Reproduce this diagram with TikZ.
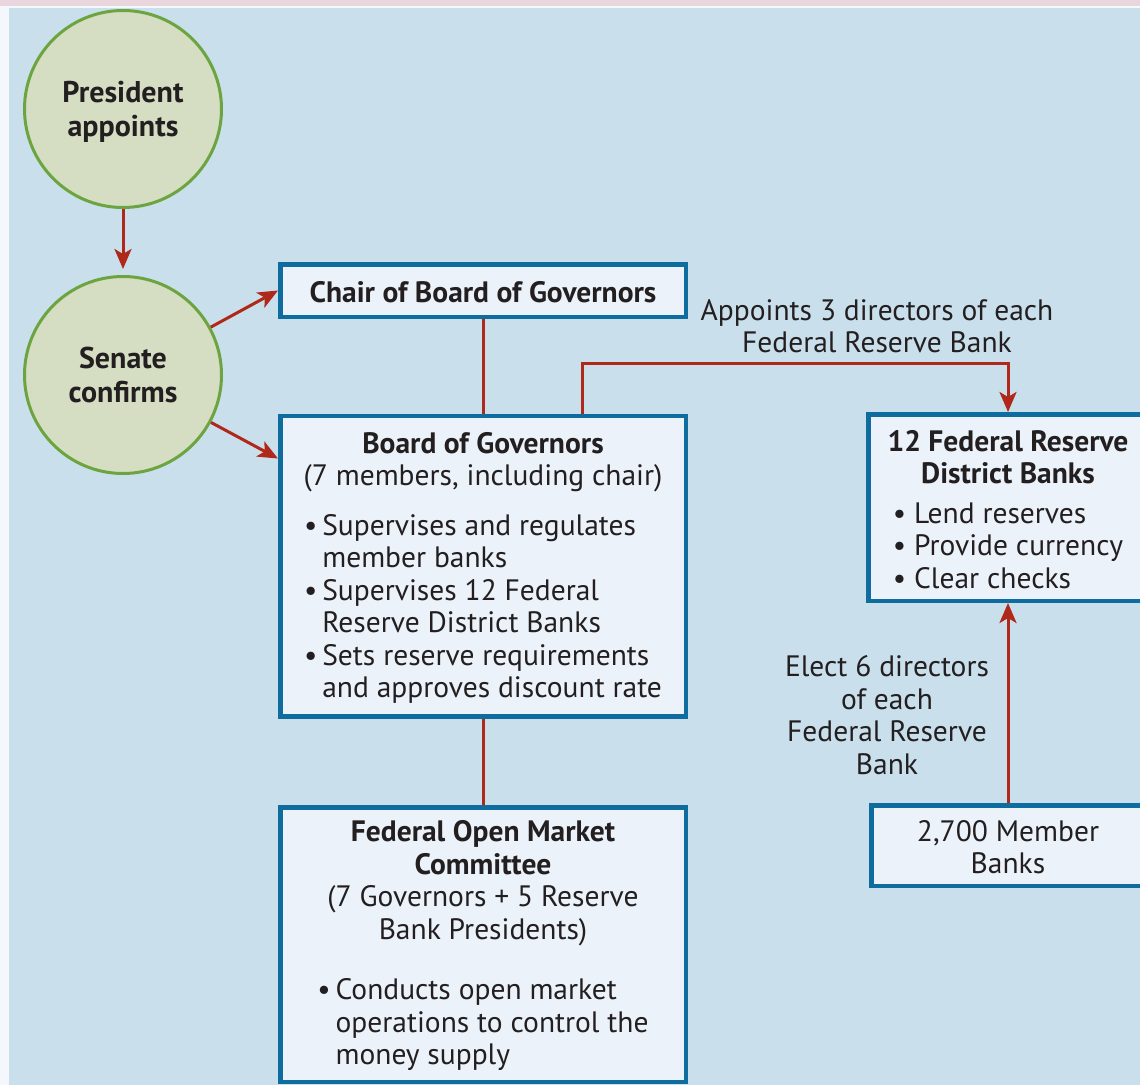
\documentclass[tikz,border=0pt]{standalone}
\usepackage{fontspec}
\setmainfont{PT Sans}
\usetikzlibrary{arrows.meta}
\definecolor{bgblue}{HTML}{C9DFEB}
\definecolor{edgewhite}{HTML}{F4F7FB}
\definecolor{toppink}{HTML}{E9D6DC}
\definecolor{boxfill}{HTML}{EBF2F9}
\definecolor{boxline}{HTML}{0E6C9E}
\definecolor{circfill}{HTML}{D5DDC3}
\definecolor{circline}{HTML}{6CA43F}
\definecolor{linkred}{HTML}{B0281A}
\definecolor{ink}{HTML}{231F20}
\newcommand\liftline[1]{\rule{0pt}{\dimexpr\ht\strutbox+#1\relax}}
\tikzset{
  basefont/.style={font=\fontsize{29.5}{32.5}\selectfont, text=ink},
  circ/.style={circle, basefont, draw=circline, fill=circfill, line width=3pt, minimum size=197pt, inner sep=0pt, align=center, font=\fontsize{30}{34}\selectfont\bfseries},
  fedbox/.style={rectangle, basefont, draw=boxline, fill=boxfill, line width=4.5pt, inner sep=0pt, align=center},
  lbl/.style={basefont, align=center, inner sep=0pt},
  link/.style={draw=linkred, line width=3pt},
  arr/.style={link, -{Stealth[length=20pt,width=17pt,inset=5pt]}}
}
\begin{document}
\begin{tikzpicture}[x=1pt,y=-1pt]
\useasboundingbox (0,0) rectangle (1140,1085);
\clip (0,0) rectangle (1140,1085);
\fill[edgewhite] (0,0) rectangle (1140,1085);
\fill[toppink] (0,0) rectangle (1140,6);
\fill[bgblue] (9,8) rectangle (1140,1085);

\node[circ] (pres) at (123,109) {\liftline{4pt}President\\appoints};
\node[circ] (sen) at (123,375) {Senate\\confirms};

\node[fedbox, minimum width=405.5pt, minimum height=52.5pt] (chair) at (483,290.5) {\liftline{1pt}\bfseries Chair of Board of Governors};

\node[fedbox, minimum width=405.5pt, minimum height=300.5pt] (board) at (483,566) {%
\liftline{6pt}\textbf{Board of Governors}\\(7 members, including chair)\\[17pt]%
\begin{tabular}[t]{@{}l@{}}
•\,Supervises and regulates\\
\phantom{•\,}member banks\\
•\,Supervises 12 Federal\\
\phantom{•\,}Reserve District Banks\\
•\,Sets reserve requirements\\
\phantom{•\,}and approves discount rate
\end{tabular}};

\node[fedbox, minimum width=405.5pt, minimum height=274.5pt] (fomc) at (483,944.5) {%
\liftline{4pt}\textbf{Federal Open Market}\\\textbf{Committee}\\(7 Governors + 5 Reserve\\Bank Presidents)\\[28pt]%
\begin{tabular}[t]{@{}l@{}}
•\,Conducts open market\\
\phantom{•\,}operations to control the\\
\phantom{•\,}money supply
\end{tabular}};

\node[fedbox, minimum width=279.5pt, minimum height=186.5pt] (frdb) at (1008,507.5) {%
\liftline{11pt}\textbf{12 Federal Reserve}\\\textbf{District Banks}\\[7pt]%
\begin{tabular}[t]{@{}l@{}}
•\ Lend reserves\\
•\ Provide currency\\
•\ Clear checks
\end{tabular}};

\node[fedbox, minimum width=273.5pt, minimum height=80.5pt] (mem) at (1008,845.5) {\liftline{2pt}2,700 Member\\Banks};

\node[lbl] (applbl) at (877,326) {Appoints 3 directors of each\\Federal Reserve Bank};
\node[lbl] (electlbl) at (887,715) {Elect 6 directors\\of each\\Federal Reserve\\Bank};

\draw[arr, shorten >=6pt] (pres) -- (sen);
\draw[arr] (sen) -- (chair.west);
\draw[arr] (sen) -- ([yshift=-45pt]board.north west);
\draw[link] (chair.south) -- (board.north);
\draw[link] (board.south) -- (fomc.north);
\draw[arr] ([xshift=99pt]board.north) -- ++(0,-50) -| (frdb.north);
\draw[arr] (mem.north) -- (frdb.south);
\end{tikzpicture}
\end{document}
